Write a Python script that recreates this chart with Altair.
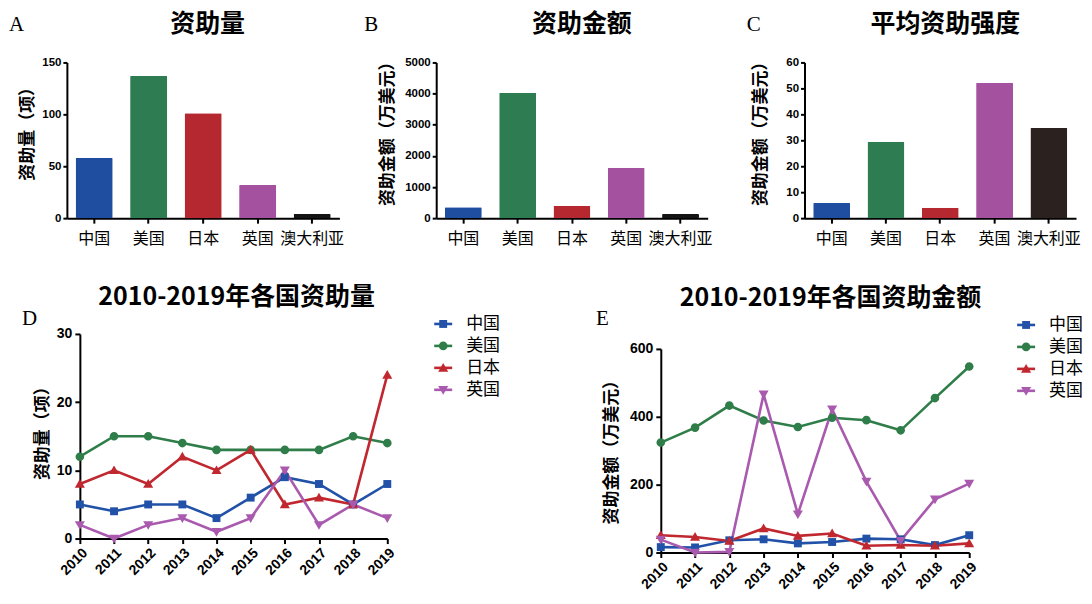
import altair as alt
import pandas as pd

CJK = "Noto Sans CJK SC"
NUM = "Liberation Sans"
SERIF = "Liberation Serif"

# ---- data: top bar charts ----
countries5 = ["中国", "美国", "日本", "英国", "澳大利亚"]
grant_count = [58, 137, 101, 32, 4]
grant_amount = [350, 4030, 400, 1620, 130]
grant_intensity = [5.8, 29.4, 4.0, 52.2, 34.7]
colors_ab = ["#1f4ea1", "#2e7d52", "#b5282f", "#a4529f", "#141414"]
colors_c = ["#1f4ea1", "#2e7d52", "#b5282f", "#a4529f", "#2b221f"]

# ---- data: yearly line charts ----
years = ["2010", "2011", "2012", "2013", "2014", "2015", "2016", "2017", "2018", "2019"]
countries4 = ["中国", "美国", "日本", "英国"]
d_cn = [5, 4, 5, 5, 3, 6, 9, 8, 5, 8]
d_us = [12, 15, 15, 14, 13, 13, 13, 13, 15, 14]
d_jp = [8, 10, 8, 12, 10, 13, 5, 6, 5, 24]
d_uk = [2, 0, 2, 3, 1, 3, 10, 2, 5, 3]
e_cn = [16, 15, 36, 39, 27, 31, 41, 39, 22, 51]
e_us = [324, 368, 433, 389, 370, 397, 390, 360, 455, 548]
e_jp = [51, 46, 34, 71, 49, 56, 20, 22, 20, 27]
e_uk = [38, 0, 2, 466, 113, 422, 209, 35, 157, 203]
line_colors = ["#2152a8", "#2f7d49", "#c0272e", "#a95aae"]
marker_paths = [
    "M-0.44,-0.44H0.44V0.44H-0.44Z",
    "M0.48,0A0.48,0.48,0,1,1,-0.48,0A0.48,0.48,0,1,1,0.48,0Z",
    "M0,-0.55L0.56,0.42L-0.56,0.42Z",
    "M0,0.55L0.56,-0.42L-0.56,-0.42Z",
]

# whole figure = one plot area; each panel gets its own scales/ranges
W, H = 1011, 491


def text_layer(txt, x, y, font, size, weight, align="left"):
    return alt.Chart(pd.DataFrame({"t": [txt]})).mark_text(
        font=font, fontSize=size, fontWeight=weight, align=align,
        baseline="alphabetic", color="black"
    ).encode(x=alt.value(x), y=alt.value(y), text="t:N")


def bar_panel(vals, colors, ytitle, ymax, yvalues, title, title_x, letter, letter_x,
              x0, x1, title_pad):
    df = pd.DataFrame({"国家": countries5, "数值": vals})
    bars = alt.Chart(df).mark_bar(cornerRadius=1).encode(
        x=alt.X("国家:N", sort=countries5,
                scale=alt.Scale(paddingInner=0.32, paddingOuter=0.16, range=[x0, x1]),
                axis=alt.Axis(title=None, orient="bottom", offset=156 - H, labelAngle=0,
                              labelFont=CJK, labelFontSize=16, labelFontWeight="normal",
                              labelPadding=7, tickSize=5)),
        y=alt.Y("数值:Q", scale=alt.Scale(domain=[0, ymax], nice=False, range=[156, 0]),
                axis=alt.Axis(values=yvalues, orient="left", offset=-x0, title=ytitle,
                              titleFont=CJK, titleFontSize=17, titleFontWeight="bold",
                              titlePadding=title_pad, titleY=67, labelFont=NUM,
                              labelFontSize=11.5, labelFontWeight="bold", labelPadding=2,
                              tickSize=4, format="d")),
        color=alt.Color("国家:N", sort=countries5,
                        scale=alt.Scale(domain=countries5, range=colors), legend=None),
    )
    ttl = text_layer(title, title_x, -30.5, CJK, 25, "bold", "center")
    let = text_layer(letter, letter_x, -31, SERIF, 21, "normal")
    return alt.layer(bars, ttl, let)


def line_panel(series, ymax, yvalues, ytitle, xr, yr, title, title_x, title_y,
               letter, letter_x, letter_y, lx, ly, ytitle_y, ytitle_pad):
    rows = []
    for c, vals in zip(countries4, series):
        for yrs, v in zip(years, vals):
            rows.append({"年份": yrs, "国家": c, "系列": c, "数值": v})
    df = pd.DataFrame(rows)
    xenc = alt.X("年份:O", sort=years,
                 scale=alt.Scale(type="point", padding=0, range=xr),
                 axis=alt.Axis(title=None, orient="bottom", offset=yr[0] - H, labelAngle=-45,
                               labelFont=NUM, labelFontSize=14, labelFontWeight="bold",
                               labelPadding=2, tickSize=5))
    yenc = alt.Y("数值:Q", scale=alt.Scale(domain=[0, ymax], nice=False, range=yr),
                 axis=alt.Axis(values=yvalues, orient="left", offset=-xr[0], title=ytitle,
                               titleFont=CJK, titleFontSize=17, titleFontWeight="bold",
                               titlePadding=ytitle_pad, titleY=ytitle_y, labelFont=NUM,
                               labelFontSize=14, labelFontWeight="bold", labelPadding=3,
                               tickSize=5, format="d"))
    common_leg = dict(title=None, orient="none", legendX=lx, legendY=ly, symbolSize=324,
                      symbolStrokeWidth=2.6, labelFont=CJK, labelFontSize=17,
                      labelColor="black", labelOffset=12.5, rowPadding=3, padding=0)
    # line legend (line segments + visible labels); its domain comes from a sort index
    lines = alt.Chart(df).mark_line(strokeWidth=2.6).encode(
        x=xenc, y=yenc,
        stroke=alt.Stroke("国家:N", sort=countries4, scale=alt.Scale(range=line_colors),
                          legend=alt.Legend(symbolType="stroke", **common_leg)),
    )
    # marker legend (colour + shape merged), drawn on the same spot, no labels of its own
    pts = alt.Chart(df).mark_point(filled=True, size=324, opacity=1, strokeWidth=0).encode(
        x=xenc, y=yenc,
        color=alt.Color("系列:N",
                        scale=alt.Scale(domain=countries4, range=line_colors),
                        legend=alt.Legend(labelExpr="''", **common_leg)),
        shape=alt.Shape("系列:N",
                        scale=alt.Scale(domain=countries4, range=marker_paths),
                        legend=alt.Legend(labelExpr="''", **common_leg)),
    )
    ttl = text_layer(title, title_x, title_y, CJK, 25, "bold", "center")
    let = text_layer(letter, letter_x, letter_y, SERIF, 21, "normal")
    return alt.layer(lines, pts, ttl, let)


A = bar_panel(grant_count, colors_ab, "资助量（项）", 150, [0, 50, 100, 150],
              "资助量", 141, "A", -58, 0, 273, 5)
B = bar_panel(grant_amount, colors_ab, "资助金额（万美元）", 5000,
              [0, 1000, 2000, 3000, 4000, 5000], "资助金额", 516, "B", 298, 370, 642, 8)
C = bar_panel(grant_intensity, colors_c, "资助金额（万美元）", 60,
              [0, 10, 20, 30, 40, 50, 60], "平均资助强度", 880, "C", 681, 739, 1011, 16)

D = line_panel([d_cn, d_us, d_jp, d_uk], 30, [0, 10, 20, 30], "资助量（项）",
               [13, 321], [477, 272], "2010-2019年各国资助量", 170, 243,
               "D", -45, 263, 366.5, 251.5, 367, 5)
E = line_panel([e_cn, e_us, e_jp, e_uk], 600, [0, 200, 400, 600], "资助金额（万美元）",
               [595, 904], [491, 287], "2010-2019年各国资助金额", 765, 244,
               "E", 530, 263, 950.5, 252.5, 386, 9)

chart = alt.layer(A, B, C, D, E).resolve_scale(
    x="independent", y="independent", color="independent",
    stroke="independent", shape="independent"
).resolve_axis(
    x="independent", y="independent"
).resolve_legend(
    color="independent", stroke="independent", shape="independent"
).properties(
    width=W, height=H, padding={"left": 1, "top": 3, "right": 0, "bottom": 0}
).configure_view(stroke=None).configure_axis(
    domainColor="black", domainWidth=2, tickColor="black", tickWidth=2,
    labelColor="black", titleColor="black", grid=False
)

chart.save("out.html", embed_options={"renderer": "svg", "actions": False})
